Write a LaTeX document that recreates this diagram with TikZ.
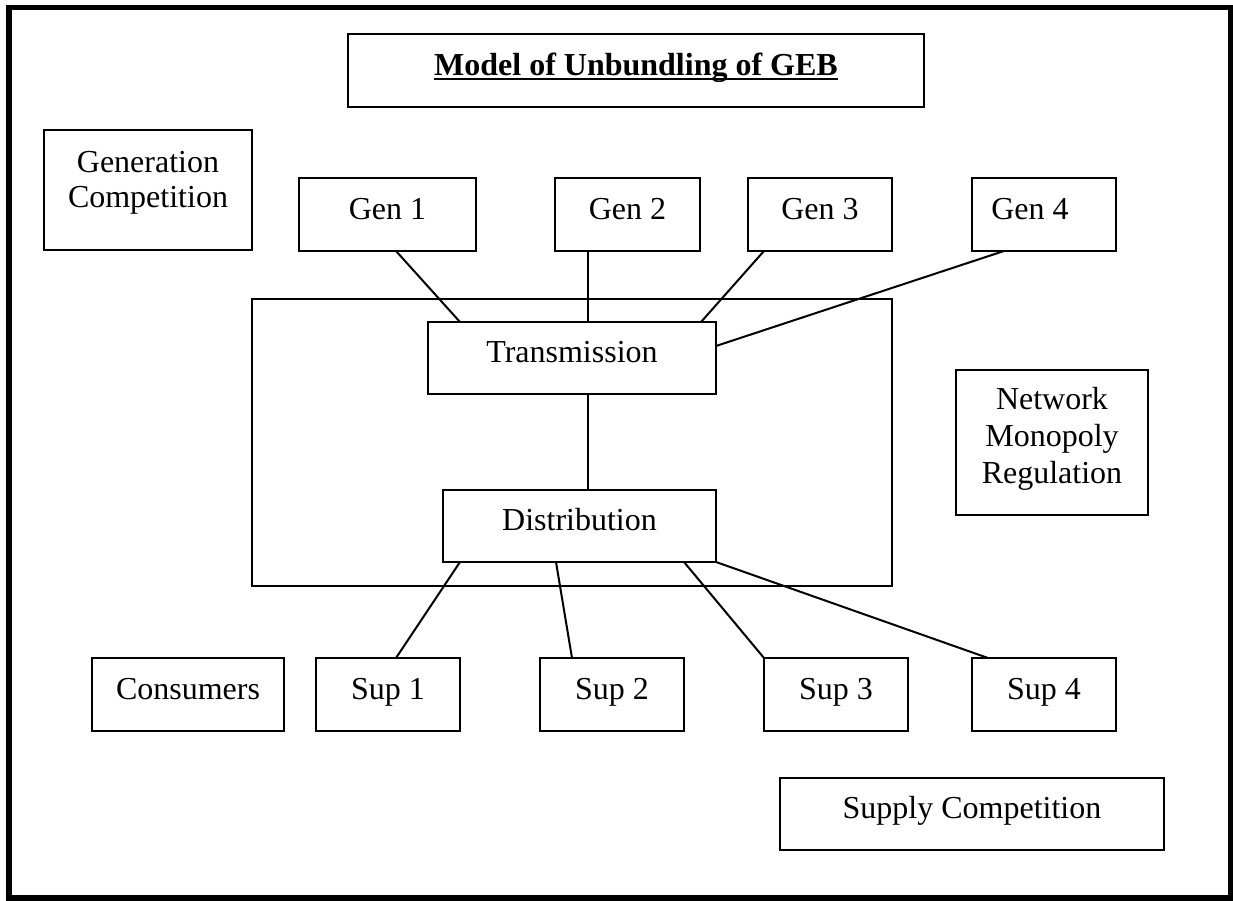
\documentclass[tikz,border=0pt]{standalone}
\usepackage{fontspec}
\setmainfont{Liberation Serif}
\usetikzlibrary{calc}

\newcommand{\ulbold}[1]{\setbox0\hbox{\bfseries #1}\rlap{\rule[-1.9pt]{\wd0}{1pt}}\box0}

\begin{document}
\begin{tikzpicture}[x=0.375pt, y=-0.375pt, line join=miter]

    \tikzset{
      box/.style={
        draw, line width=0.75pt, inner sep=0pt, outer sep=0pt,
        align=center, font=\fontsize{12pt}{13.5pt}\selectfont,
        text height=8.5pt, text depth=5pt
      },
      wh/.style 2 args={minimum width=#1*0.375pt, minimum height=#2*0.375pt},
      link/.style={line width=0.75pt}
    }

    \useasboundingbox (0,0) rectangle (1233,901);
    \draw[line width=2pt] (9,7.5) rectangle (1230.5,898);

    \node[box, wh={576}{73}] (title) at (636,70.5)
      {\ulbold{Model of Unbundling of GEB}};

    \node[box, wh={208}{120}, font=\fontsize{12pt}{13.1pt}\selectfont,
      text height=17.8pt] (gencomp) at (148,190) {Generation\\Competition};

    \node[box, wh={177}{73}] (gen1) at (387.5,214.5) {Gen 1};
    \node[box, wh={145}{73}] (gen2) at (627.5,214.5) {Gen 2};
    \node[box, wh={144}{73}] (gen3) at (820,214.5) {Gen 3};
    \node[box, wh={144}{73}] (gen4) at (1044,214.5) {Gen 4\hspace*{10.5pt}};

    % network monopoly part
    \node[box, wh={640}{287}] (core) at (572,442.5) {};
    \node[box, wh={288}{72}] (trans) at (572,358) {Transmission};
    \node[box, wh={273}{72}] (dist) at (579.5,526) {Distribution};

    \node[box, wh={192}{145}, font=\fontsize{12pt}{13.7pt}\selectfont,
      text height=35.4pt] (netreg) at (1052,442.5) {Network\\Monopoly\\Regulation};

    \node[box, wh={192}{73}] (cons) at (188,694.5) {Consumers};
    \node[box, wh={144}{73}] (sup1) at (388,694.5) {Sup 1};
    \node[box, wh={144}{73}] (sup2) at (612,694.5) {Sup 2};
    \node[box, wh={144}{73}] (sup3) at (836,694.5) {Sup 3};
    \node[box, wh={144}{73}] (sup4) at (1044,694.5) {Sup 4};

    \node[box, wh={384}{72}] (supcomp) at (972,814) {Supply Competition};

    \draw[link] ($(gen1.south)+(8.5,0)$) -- ($(trans.north)+(-112,0)$);
    \draw[link] ($(gen2.south)+(-39.5,0)$) -- ($(trans.north)+(16,0)$);
    \draw[link] ($(gen3.south)+(-56,0)$) -- ($(trans.north)+(129,0)$);
    \draw[link] ($(gen4.south)+(-40,0)$) -- ($(trans.east)+(0,-12)$);
    \draw[link] ($(trans.south)+(16,0)$) -- ($(dist.north)+(8.5,0)$);
    \draw[link] ($(dist.south)+(-119.5,0)$) -- ($(sup1.north)+(8,0)$);
    \draw[link] ($(dist.south)+(-23.5,0)$) -- ($(sup2.north)+(-40,0)$);
    \draw[link] ($(dist.south)+(104.5,0)$) -- (sup3.north west);
    \draw[link] (dist.south east) -- ($(sup4.north)+(-56,0)$);

\end{tikzpicture}
\end{document}
